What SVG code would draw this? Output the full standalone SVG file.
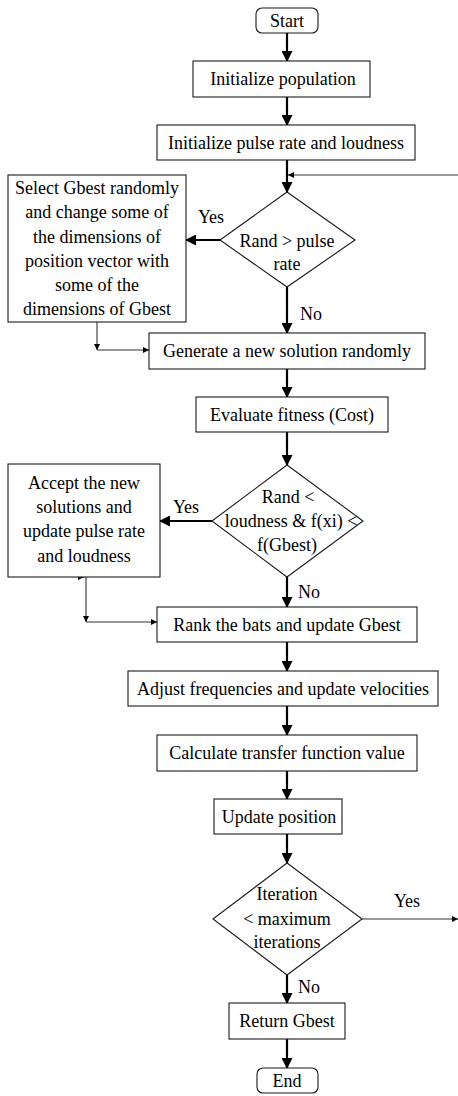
<svg xmlns="http://www.w3.org/2000/svg" width="458" height="1096" viewBox="0 0 458 1096" font-family="Liberation Serif, DejaVu Serif, serif">
<style>
.box{fill:#fff;stroke:#1a1a1a;stroke-width:1.1}
.t{font-size:18px;fill:#000;text-anchor:middle}
.thick{stroke:#000;stroke-width:2.2;fill:none;marker-end:url(#arr)}
.thin{stroke:#333;stroke-width:1.1;fill:none;marker-end:url(#sarr)}
</style>
<defs>
<marker id="arr" markerUnits="userSpaceOnUse" markerWidth="11" markerHeight="11" refX="10" refY="5.5" orient="auto" viewBox="0 0 11 11"><path d="M0,0 L11,5.5 L0,11 z" fill="#000"/></marker>
<marker id="sarr" markerUnits="userSpaceOnUse" markerWidth="6" markerHeight="6" refX="6" refY="3" orient="auto" viewBox="0 0 6 6"><path d="M0,0 L6,3 L0,6 z" fill="#000"/></marker>
</defs>
<g id="connectors">
<line class="thick" x1="287" y1="33" x2="287" y2="61"/>
<line class="thick" x1="287" y1="97" x2="287" y2="125"/>
<line class="thick" x1="287" y1="160" x2="287" y2="192"/>
<line class="thick" x1="220" y1="240" x2="186" y2="240"/>
<line class="thick" x1="287" y1="287" x2="287" y2="333"/>
<line class="thick" x1="287" y1="369" x2="287" y2="397"/>
<line class="thick" x1="287" y1="432" x2="287" y2="465"/>
<line class="thick" x1="212" y1="521" x2="160" y2="521"/>
<line class="thick" x1="287" y1="577" x2="287" y2="607"/>
<line class="thick" x1="287" y1="642" x2="287" y2="671"/>
<line class="thick" x1="287" y1="706" x2="287" y2="735"/>
<line class="thick" x1="287" y1="771" x2="287" y2="799"/>
<line class="thick" x1="287" y1="834" x2="287" y2="863"/>
<line class="thick" x1="287" y1="975" x2="287" y2="1003"/>
<line class="thick" x1="287" y1="1039" x2="287" y2="1068"/>
<line class="thin" x1="458" y1="175" x2="288" y2="175"/>
<line class="thin" x1="97" y1="322" x2="97" y2="350"/>
<line class="thin" x1="97" y1="350" x2="149" y2="350"/>
<line class="thin" x1="78" y1="577" x2="84" y2="577"/>
<line class="thin" x1="86" y1="577" x2="86" y2="622"/>
<line class="thin" x1="86" y1="622" x2="157" y2="622"/>
<line class="thin" x1="362" y1="919" x2="458" y2="919"/>
<text class="t" x="211" y="223">Yes</text>
<text class="t" x="311" y="320">No</text>
<text class="t" x="186" y="513">Yes</text>
<text class="t" x="309" y="598">No</text>
<text class="t" x="407" y="907">Yes</text>
<text class="t" x="309" y="993">No</text>
</g>
<g id="start"><rect class="box" x="256" y="8" width="62" height="25" rx="6"/><text class="t" x="287" y="27">Start</text></g>
<g id="init-pop"><rect class="box" x="193" y="61" width="177" height="36"/><text class="t" x="283" y="85">Initialize population</text></g>
<g id="init-pulse"><rect class="box" x="157" y="125" width="258" height="35"/><text class="t" x="286" y="149">Initialize pulse rate and loudness</text></g>
<g id="dec1"><polygon class="box" points="287,192 355,240 287,287 220,240"/><text class="t" x="287" y="247">Rand &gt; pulse</text><text class="t" x="287" y="270">rate</text></g>
<g id="select-gbest"><rect class="box" x="8" y="175" width="178" height="147"/>
<text class="t" x="97" y="194">Select Gbest randomly</text>
<text class="t" x="97" y="218">and change some of</text>
<text class="t" x="97" y="243">the dimensions of</text>
<text class="t" x="97" y="267">position vector with</text>
<text class="t" x="97" y="291">some of the</text>
<text class="t" x="97" y="315">dimensions of Gbest</text></g>
<g id="generate"><rect class="box" x="149" y="333" width="276" height="36"/><text class="t" x="287" y="357">Generate a new solution randomly</text></g>
<g id="evaluate"><rect class="box" x="196" y="397" width="192" height="35"/><text class="t" x="292" y="421">Evaluate fitness (Cost)</text></g>
<g id="dec2"><polygon class="box" points="287,465 363,521 287,577 212,521"/>
<text class="t" x="288" y="503">Rand &lt;</text>
<text class="t" x="291" y="527">loudness &amp; f(xi) &lt;</text>
<text class="t" x="287" y="551">f(Gbest)</text></g>
<g id="accept"><rect class="box" x="8" y="464" width="152" height="113"/>
<text class="t" x="84" y="489">Accept the new</text>
<text class="t" x="84" y="513">solutions and</text>
<text class="t" x="84" y="537">update pulse rate</text>
<text class="t" x="84" y="562">and loudness</text></g>
<g id="rank"><rect class="box" x="157" y="607" width="260" height="35"/><text class="t" x="287" y="631">Rank the bats and update Gbest</text></g>
<g id="adjust"><rect class="box" x="128" y="671" width="310" height="35"/><text class="t" x="283" y="695">Adjust frequencies and update velocities</text></g>
<g id="calc"><rect class="box" x="157" y="735" width="260" height="36"/><text class="t" x="287" y="759">Calculate transfer function value</text></g>
<g id="update"><rect class="box" x="214" y="799" width="128" height="35"/><text class="t" x="279" y="823">Update position</text></g>
<g id="dec3"><polygon class="box" points="287,863 362,919 287,975 213,919"/>
<text class="t" x="287" y="900">Iteration</text>
<text class="t" x="287" y="925">&lt; maximum</text>
<text class="t" x="287" y="948">iterations</text></g>
<g id="return"><rect class="box" x="229" y="1003" width="116" height="36"/><text class="t" x="287" y="1027">Return Gbest</text></g>
<g id="end"><rect class="box" x="257" y="1068" width="61" height="25" rx="6"/><text class="t" x="287" y="1087">End</text></g>
</svg>
